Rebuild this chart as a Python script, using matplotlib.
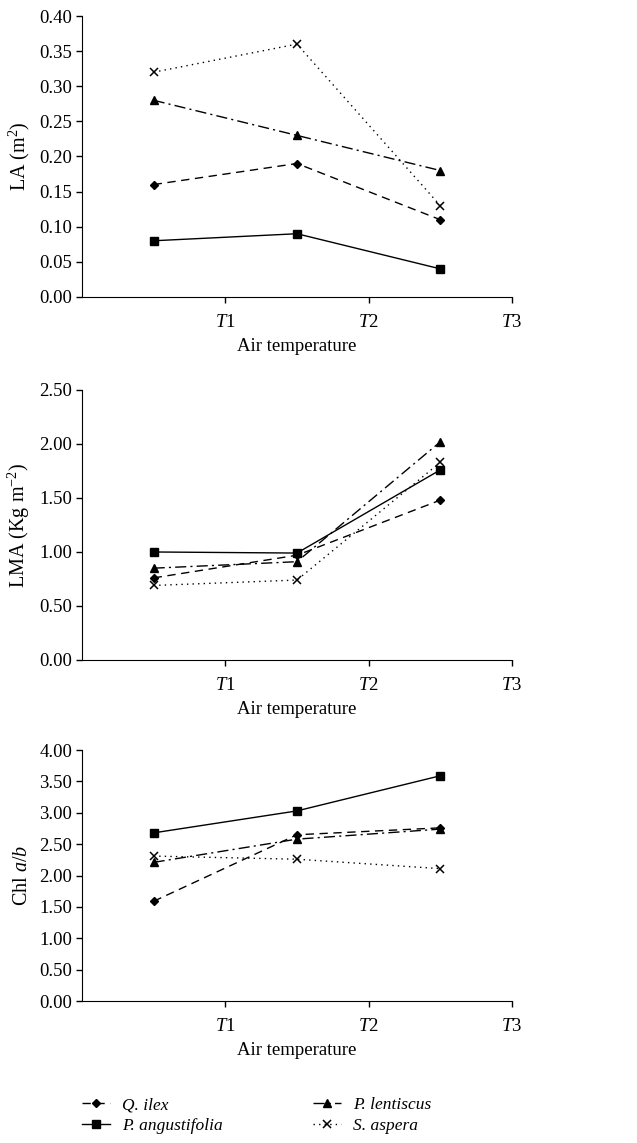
import matplotlib.pyplot as plt
import numpy as np

plt.rcParams['font.family'] = ['Liberation Serif', 'DejaVu Serif']
plt.rcParams['mathtext.fontset'] = 'custom'
plt.rcParams['mathtext.rm'] = 'Liberation Serif'
plt.rcParams['mathtext.it'] = 'Liberation Serif:italic'

FONTSIZE = 13.5

# x positions of the three measurement groups (between tick marks)
x_pos = [0.5, 1.5, 2.5]
tick_pos = [1, 2, 3]
tick_labels = ["$T$1", "$T$2", "$T$3"]

species = ["Q. ilex", "P. angustifolia", "P. lentiscus", "S. aspera"]

# Leaf area (m2)
la_q_ilex = [0.16, 0.19, 0.11]
la_p_angustifolia = [0.08, 0.09, 0.04]
la_p_lentiscus = [0.28, 0.23, 0.18]
la_s_aspera = [0.32, 0.36, 0.13]

# Leaf mass per area (Kg m-2)
lma_q_ilex = [0.76, 0.97, 1.48]
lma_p_angustifolia = [1.00, 0.99, 1.76]
lma_p_lentiscus = [0.85, 0.91, 2.02]
lma_s_aspera = [0.69, 0.74, 1.83]

# Chlorophyll a/b
chl_q_ilex = [1.59, 2.65, 2.76]
chl_p_angustifolia = [2.68, 3.03, 3.59]
chl_p_lentiscus = [2.21, 2.58, 2.74]
chl_s_aspera = [2.31, 2.26, 2.11]

styles = [
    dict(linestyle=(0, (6, 4)), marker="D", markersize=4.5),
    dict(linestyle="-", marker="s", markersize=6),
    dict(linestyle=(0, (8, 3, 1.5, 3)), marker="^", markersize=6),
    dict(linestyle=(0, (1, 3)), marker="x", markersize=6, markeredgewidth=1.1),
]

panels = [
    ([la_q_ilex, la_p_angustifolia, la_p_lentiscus, la_s_aspera],
     "LA (m$^2$)", 0.40, 0.05, [0.1287, 0.7402, 0.675, 0.2458]),
    ([lma_q_ilex, lma_p_angustifolia, lma_p_lentiscus, lma_s_aspera],
     "LMA (Kg m$^{-2}$)", 2.50, 0.50, [0.1287, 0.4226, 0.675, 0.2362]),
    ([chl_q_ilex, chl_p_angustifolia, chl_p_lentiscus, chl_s_aspera],
     "Chl $a/b$", 4.00, 0.50, [0.1287, 0.1242, 0.675, 0.2196]),
]

fig = plt.figure(figsize=(6.37, 11.43), dpi=100)

handles = []
for series, ylabel, ymax, ystep, rect in panels:
    ax = fig.add_axes(rect)
    lines = []
    for values, name, st in zip(series, species, styles):
        ln, = ax.plot(x_pos, values, color="black", linewidth=1.0, label=name, **st)
        lines.append(ln)
    handles = lines

    ax.set_xlim(0, 3)
    ax.set_ylim(0, ymax)
    ax.set_xticks(tick_pos)
    ax.set_xticklabels(tick_labels, fontsize=FONTSIZE)
    yt = np.arange(0, ymax + ystep / 2, ystep)
    ax.set_yticks(yt)
    ax.set_yticklabels([f"{v:.2f}" for v in yt], fontsize=FONTSIZE)
    ax.tick_params(direction="out", length=4, width=1.0, pad=3)
    ax.tick_params(axis="x", pad=8)
    for s in ["top", "right"]:
        ax.spines[s].set_visible(False)
    ax.set_ylabel(ylabel, fontsize=14.5, labelpad=5)
    ax.set_xlabel("Air temperature", fontsize=FONTSIZE, labelpad=5)

leg = fig.legend(handles, species, loc="upper left", bbox_to_anchor=(0.104, 0.054),
                 ncol=2, frameon=False, handlelength=1.6, handletextpad=0.7,
                 columnspacing=5.2, labelspacing=0.3,
                 prop={"family": "Liberation Serif", "style": "italic", "size": 12.5})

plt.savefig("out.png", dpi=100)
plt.close()
